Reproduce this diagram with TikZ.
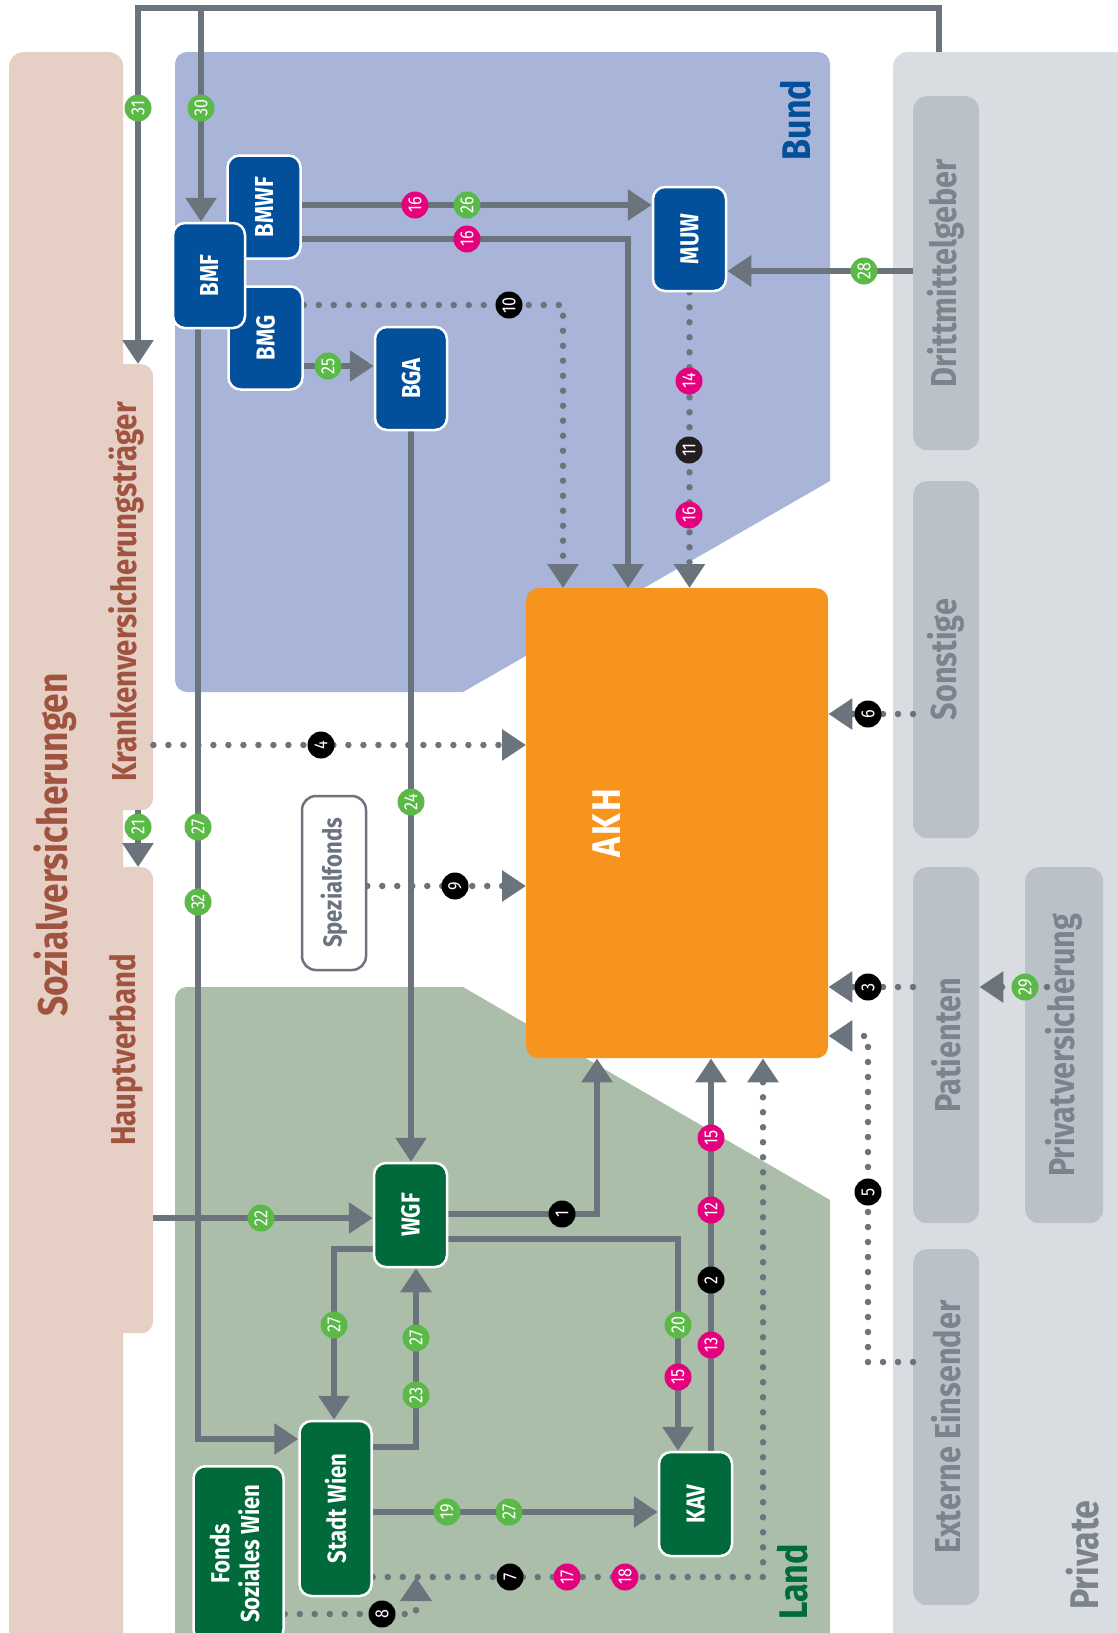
\documentclass[tikz,border=0pt]{standalone}
\usepackage{fontspec}
\setmainfont{Fira Sans}[FakeStretch=0.85]
\usetikzlibrary{arrows.meta,calc}
\definecolor{sozfill}{HTML}{E6D0C5}
\definecolor{soztext}{HTML}{A0533F}
\definecolor{bundfill}{HTML}{A8B5D8}
\definecolor{bundblue}{HTML}{02509C}
\definecolor{landfill}{HTML}{ABBEAA}
\definecolor{landgreen}{HTML}{006A3B}
\definecolor{akhfill}{HTML}{F7941D}
\definecolor{privfill}{HTML}{D9DDE1}
\definecolor{privbox}{HTML}{BBC1C8}
\definecolor{privtext}{HTML}{7B838C}
\definecolor{linec}{HTML}{6B737C}
\definecolor{bgreen}{HTML}{5AB947}
\definecolor{bpink}{HTML}{E5007D}
\definecolor{bdark}{HTML}{231F20}
\pgfdeclarelayer{bg}
\pgfdeclarelayer{lines}
\pgfsetlayers{bg,lines,main}
\newcommand{\vtext}[1]{\rotatebox{90}{#1}}
\newcommand{\fsz}[1]{\fontsize{#1}{#1}\selectfont}
\begin{document}
\begin{tikzpicture}[x=1pt,y=-1pt,
  >={Triangle[width=30pt,length=24pt]},
  conn/.style={draw=linec,line width=6.5pt},
  dotc/.style={draw=linec,line width=6.5pt,line cap=round,dash pattern=on 0pt off 15pt},
  badge/.style={circle,minimum size=27pt,inner sep=0pt,text=white,font=\fsz{19}},
  gb/.style={badge,fill=bgreen},
  pb/.style={badge,fill=bpink},
  kb/.style={badge,fill=black},
  nbox/.style={rounded corners=12pt,draw=white,line width=2.5pt,text=white,inner sep=0pt,font=\bfseries\fsz{26}},
  bbox/.style={nbox,fill=bundblue},
  lbox/.style={nbox,fill=landgreen},
  pbox/.style={rounded corners=14pt,fill=privbox,text=privtext,inner sep=0pt,font=\bfseries\fsz{36},anchor=north west},
  panel/.style={inner sep=0pt,anchor=north west},
]
\clip (0,0) rectangle (1117,1633);

% ---------- panels ----------
\begin{pgfonlayer}{bg}
\node[panel,fill=sozfill,rounded corners=14pt,minimum width=114pt,minimum height=1620pt] (soz) at (9,52) {};
\node[panel,fill=sozfill,rounded corners=12pt,minimum width=43pt,minimum height=446pt] (kvt) at (110,364) {};
\node[panel,fill=sozfill,rounded corners=12pt,minimum width=43pt,minimum height=466pt] (hv) at (110,867) {};
\node[panel,fill=privfill,rounded corners=14pt,minimum width=260pt,minimum height=1620pt] (priv) at (893,52) {};
\fill[bundfill] (830,300) [rounded corners=12pt] -- (830,52) -- (175,52) -- (175,692) [sharp corners] -- (463,692) -- (830,481) -- cycle;
\fill[landfill] (175,1700) [rounded corners=12pt] -- (175,987) [sharp corners] -- (463,987) -- (830,1200) -- (830,1700) -- cycle;
\node[pbox,minimum width=66pt,minimum height=354pt] (dritt) at (913,96) {\vtext{Drittmittelgeber}};
\node[pbox,minimum width=66pt,minimum height=357pt] (sonst) at (913,481) {\vtext{Sonstige}};
\node[pbox,minimum width=66pt,minimum height=356pt] (pat) at (913,867) {\vtext{Patienten}};
\node[pbox,minimum width=78pt,minimum height=356pt] (pv) at (1025,867) {\vtext{Privatversicherung}};
\node[pbox,minimum width=66pt,minimum height=356pt] (ext) at (913,1249) {\vtext{Externe Einsender}};
\end{pgfonlayer}

% ---------- panel texts ----------
\node[text=soztext,font=\bfseries\fsz{41.5}] (tsoz) at (55,845) {\vtext{Sozialversicherungen}};
\node[text=soztext,font=\bfseries\fsz{34.5}] (tkvt) at (126,592) {\vtext{Krankenversicherungsträger}};
\node[text=soztext,font=\bfseries\fsz{34.5}] (thv) at (126,1050) {\vtext{Hauptverband}};
\node[text=bundblue,font=\bfseries\fsz{40}] (tbund) at (796,120) {\vtext{Bund}};
\node[text=landgreen,font=\bfseries\fsz{40}] (tland) at (793,1582) {\vtext{Land}};
\node[text=privtext,font=\bfseries\fsz{40}] (tpriv) at (1083,1555) {\vtext{Private}};

% ---------- nodes ----------
\node[bbox,minimum width=73pt,minimum height=103pt] (bmwf) at (264,207) {\vtext{BMWF}};
\node[bbox,minimum width=74pt,minimum height=103pt] (bmg) at (265.5,338) {\vtext{BMG}};
\node[bbox,minimum width=72pt,minimum height=105pt] (bmf) at (209,275.5) {\vtext{BMF}};
\node[bbox,minimum width=72pt,minimum height=103pt] (bga) at (411,378.5) {\vtext{BGA}};
\node[bbox,minimum width=73pt,minimum height=104pt] (muw) at (689.5,239) {\vtext{MUW}};
\node[panel,fill=akhfill,rounded corners=12pt,minimum width=302pt,minimum height=470pt] (akh) at (526,588) {};
\node[text=white,font=\bfseries\fsz{40}] (akhl) at (607,823) {\vtext{A\kern2pt K\kern2pt H}};
\node[lbox,minimum width=73pt,minimum height=104pt] (wgf) at (410.5,1215) {\vtext{WGF}};
\node[lbox,minimum width=72pt,minimum height=175pt] (stw) at (335.5,1508.5) {\vtext{Stadt Wien}};
\node[lbox,minimum width=90pt,minimum height=175pt,anchor=north,font=\bfseries\fontsize{26}{29}\selectfont] (fsw) at (238.5,1465) {\vtext{\begin{tabular}{@{}c@{}}Fonds\\Soziales Wien\end{tabular}}};
\node[lbox,minimum width=73pt,minimum height=104pt] (kav) at (695.5,1504) {\vtext{KAV}};
\node[draw=linec,line width=2.5pt,fill=white,rounded corners=14pt,minimum width=64pt,minimum height=174pt,text=linec,inner sep=0pt,font=\bfseries\fsz{26}] (spz) at (334,883) {\vtext{Spezialfonds}};

\coordinate (t31) at (138,8);
\coordinate (t30) at (201,8);
\coordinate (c5) at (868,1036);
\coordinate (j7) at (416,1577);

% ---------- connectors ----------
\begin{pgfonlayer}{lines}
\draw[conn,->] (priv.north -| 939,0) |- (t31) -- (kvt.north -| t31);
\draw[conn,->] (t30) -- (bmf.north -| t30);
\draw[conn,->] (bmwf.east |- 0,205) -- (muw.west |- 0,205);
\draw[conn,->] (bmwf.east |- 0,239) -| (akh.north -| 628,0);
\draw[dotc,->] (bmg.east |- 0,305) -| (akh.north -| 563,0);
\draw[conn,->] (bmg.east |- 0,366) -- (bga.west |- 0,366);
\draw[dotc,->] (muw.south) -- (muw.south |- akh.north);
\draw[conn,->] (dritt.west |- 0,271) -- (muw.east |- 0,271);
\draw[conn,->] (bmf.south -| 198,0) |- (stw.west |- 0,1439);
\draw[conn,->] (bga.south) -- (bga.south |- wgf.north);
\draw[dotc,->] (kvt.east |- 0,745) -- (akh.west |- 0,745);
\draw[conn,->] (kvt.south -| t31) -- (hv.north -| t31);
\draw[dotc,->] (spz.east |- 0,886) -- (akh.west |- 0,886);
\draw[dotc,->] (sonst.west |- 0,714) -- (akh.east |- 0,714);
\draw[dotc,->] (pat.west |- 0,987) -- (akh.east |- 0,987);
\draw[dotc,->] ($(pv.west |- 0,987)+(22,0)$) -- (pat.east |- 0,987);
\draw[dotc,->] (ext.west |- 0,1362) -| (c5) -- (akh.east |- c5);
\draw[conn,->] (wgf.east |- 0,1214) -| (akh.south -| 597,0);
\draw[conn,->] (wgf.east |- 0,1239) -| (kav.north -| 678,0);
\draw[conn,->] (kav.north -| 711,0) -- (akh.south -| 711,0);
\draw[dotc,->] (stw.east |- 0,1577) -| (akh.south -| 763,0);
\draw[conn,->] (hv.east |- 0,1218) -- (wgf.west |- 0,1218);
\draw[conn,->] (wgf.west |- 0,1249) -| (stw.north -| 334,0);
\draw[conn,->] (stw.east |- 0,1447) -| (wgf.south -| 416,0);
\draw[conn,->] (stw.east |- 0,1512) -- (kav.west |- 0,1512);
\draw[dotc,->] (fsw.east |- 0,1614) -| (j7);
\end{pgfonlayer}

% ---------- badges ----------
\node[gb] (g31) at (138,108) {\vtext{31}};
\node[gb] (g30) at (201,108) {\vtext{30}};
\node[pb] (p16a) at (415,205) {\vtext{16}};
\node[gb] (g26) at (467,205) {\vtext{26}};
\node[pb] (p16b) at (467,239) {\vtext{16}};
\node[kb] (k10) at (509,305) {\vtext{10}};
\node[gb] (g25) at (328,366) {\vtext{25}};
\node[gb] (g28) at (864,271) {\vtext{28}};
\node[pb] (p14) at (689,381) {\vtext{14}};
\node[badge,fill=bdark] (k11) at (689,450) {\vtext{11}};
\node[pb] (p16c) at (689,515) {\vtext{16}};
\node[kb] (k4) at (321,745) {\vtext{4}};
\node[kb] (k6) at (868,714) {\vtext{6}};
\node[gb] (g21) at (138,827) {\vtext{21}};
\node[gb] (g27a) at (198,827) {\vtext{27}};
\node[gb] (g32) at (198,902) {\vtext{32}};
\node[gb] (g24) at (411,802) {\vtext{24}};
\node[kb] (k9) at (455,886) {\vtext{9}};
\node[kb] (k3) at (868,987) {\vtext{3}};
\node[gb] (g29) at (1025,987) {\vtext{29}};
\node[kb] (k5) at (868,1192) {\vtext{5}};
\node[pb] (p15a) at (711,1138) {\vtext{15}};
\node[pb] (p12) at (711,1210) {\vtext{12}};
\node[kb] (k2) at (711,1280) {\vtext{2}};
\node[pb] (p13) at (711,1345) {\vtext{13}};
\node[kb] (k1) at (562,1214) {\vtext{1}};
\node[gb] (g20) at (678,1325) {\vtext{20}};
\node[pb] (p15b) at (678,1377) {\vtext{15}};
\node[gb] (g22) at (261,1218) {\vtext{22}};
\node[gb] (g27b) at (334,1325) {\vtext{27}};
\node[gb] (g27c) at (416,1338) {\vtext{27}};
\node[gb] (g23) at (416,1395) {\vtext{23}};
\node[gb] (g19) at (447,1512) {\vtext{19}};
\node[gb] (g27d) at (509,1512) {\vtext{27}};
\node[kb] (k7) at (510,1577) {\vtext{7}};
\node[pb] (p17) at (567,1577) {\vtext{17}};
\node[pb] (p18) at (625,1577) {\vtext{18}};
\node[kb] (k8) at (382,1614) {\vtext{8}};
\end{tikzpicture}
\end{document}
